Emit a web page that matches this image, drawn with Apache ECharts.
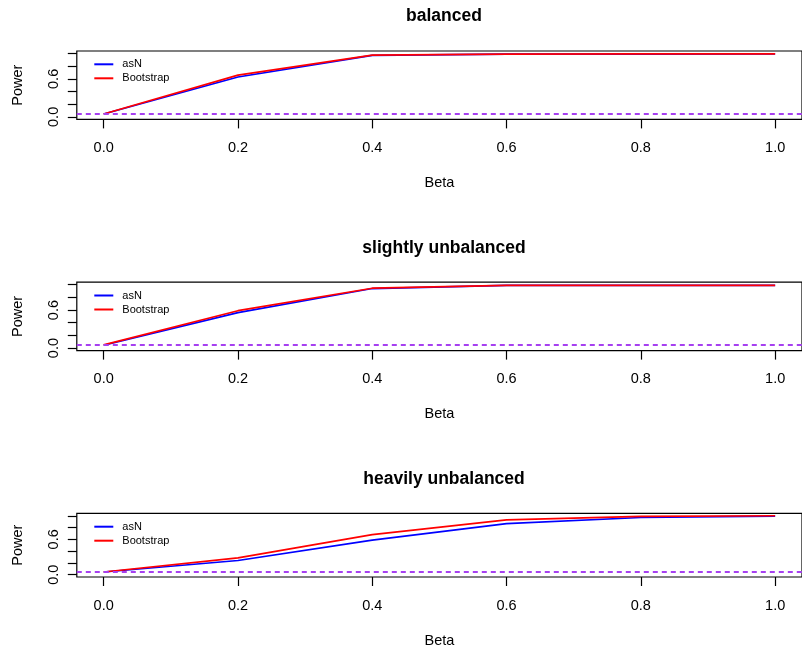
<!DOCTYPE html>
<html>
<head>
<meta charset="utf-8">
<script src="https://cdn.jsdelivr.net/npm/echarts@6/dist/echarts.min.js"></script>
<style>html,body{margin:0;padding:0;background:#fff;}#c{width:802px;height:649px;}</style>
</head>
<body>
<div id="c"></div>
<script>
// ---- data ----
const beta = [0, 0.2, 0.4, 0.6, 0.8, 1.0];
const panelTitles = ['balanced', 'slightly unbalanced', 'heavily unbalanced'];
const seriesNames = ['asN', 'Bootstrap'];
const balancedAsN = [0.045, 0.63, 0.97, 0.99, 0.99, 0.995];
const balancedBoot = [0.045, 0.66, 0.975, 0.99, 0.995, 0.995];
const slightAsN = [0.045, 0.56, 0.94, 0.99, 0.99, 0.99];
const slightBoot = [0.05, 0.59, 0.945, 0.99, 0.99, 0.99];
const heavyAsN = [0.045, 0.24, 0.585, 0.865, 0.97, 0.995];
const heavyBoot = [0.045, 0.285, 0.68, 0.93, 0.99, 1.0];
const alphaLevel = 0.05;
const xTicks = [0, 0.2, 0.4, 0.6, 0.8, 1.0];
const yTicks = [0, 0.2, 0.4, 0.6, 0.8, 1.0];
const yLabels = [0, 0.6];
const xName = 'Beta';
const yName = 'Power';

const panelData = [[balancedAsN, balancedBoot], [slightAsN, slightBoot], [heavyAsN, heavyBoot]];
const colors = ['#0000FF', '#FF0000'];
const FONT = 'Liberation Sans, Arial, Helvetica, sans-serif';

const step = 231.2;
const grids = [], xAxes = [], yAxes = [], series = [], titles = [], legends = [];
for (let i = 0; i < 3; i++) {
  const d = step * i;
  grids.push({left: 76.8, width: 734.4, top: 51 + d, height: 68.4, show: true,
    borderColor: '#000', borderWidth: 1.2, backgroundColor: 'transparent', containLabel: false});
  xAxes.push({type: 'value', gridIndex: i, min: -0.04, max: 1.04, position: 'bottom',
    axisLine: {show: false, onZero: false}, splitLine: {show: false},
    axisTick: {show: true, length: 9, customValues: xTicks, lineStyle: {color: '#000', width: 1.2}},
    axisLabel: {customValues: xTicks, margin: 21, color: '#000', fontSize: 14.5, fontFamily: FONT,
      formatter: v => v.toFixed(1)},
    name: xName, nameLocation: 'middle', nameGap: 56,
    nameTextStyle: {color: '#000', fontSize: 14.5, fontFamily: FONT}});
  yAxes.push({type: 'value', gridIndex: i, min: -0.04, max: 1.04, position: 'left',
    axisLine: {show: false, onZero: false}, splitLine: {show: false},
    axisTick: {show: true, length: 9, customValues: yTicks, lineStyle: {color: '#000', width: 1.2}},
    axisLabel: {customValues: yLabels, rotate: 90, margin: 15, color: '#000', fontSize: 14.5, fontFamily: FONT,
      formatter: v => v.toFixed(1)},
    name: yName, nameLocation: 'middle', nameGap: 51,
    nameTextStyle: {color: '#000', fontSize: 14.5, fontFamily: FONT}});
  for (let s = 0; s < 2; s++) {
    const vals = panelData[i][s];
    const ser = {type: 'line', name: seriesNames[s], xAxisIndex: i, yAxisIndex: i,
      data: beta.map((b, k) => [b, vals[k]]), symbol: 'none', silent: true,
      color: colors[s], lineStyle: {color: colors[s], width: 1.7}, z: 3 + s};
    if (s === 0) {
      ser.markLine = {symbol: 'none', silent: true, label: {show: false},
        lineStyle: {color: '#A640F0', type: [5, 4], width: 1.8}, data: [{yAxis: alphaLevel}]};
    }
    series.push(ser);
  }
  titles.push({text: panelTitles[i], left: 444, textAlign: 'center', top: 7.5 + d, padding: 0,
    textStyle: {fontSize: 17.5, fontWeight: 'bold', color: '#000', fontFamily: FONT}});
  legends.push({data: seriesNames, orient: 'vertical', left: 94.3, top: 57.3 + d, padding: 0,
    itemGap: 0, itemWidth: 19, itemHeight: 2, icon: 'rect', selectedMode: false,
    textStyle: {fontSize: 11, color: '#000', fontFamily: FONT, lineHeight: 14, padding: [0, 0, 0, 4]}});
}

const chart = echarts.init(document.getElementById('c'), null, {renderer: 'canvas'});
chart.setOption({animation: false, backgroundColor: '#fff', title: titles, legend: legends,
  grid: grids, xAxis: xAxes, yAxis: yAxes, series: series});
</script>
</body>
</html>
